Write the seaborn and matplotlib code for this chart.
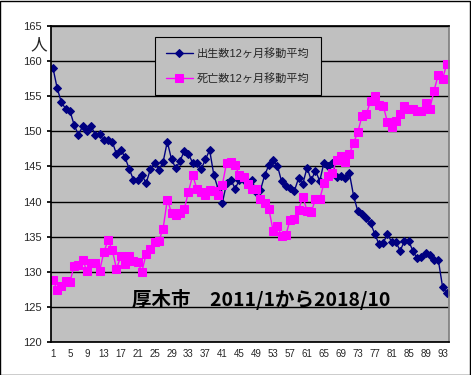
import matplotlib
matplotlib.use("Agg")
import matplotlib.pyplot as plt
import numpy as np
import pandas as pd
import seaborn as sns

months = list(range(1, 95))

births = [159.0, 156.1, 154.1, 153.2, 152.9, 150.9, 149.5, 150.7, 150.1, 150.7,
          149.5, 149.55, 148.7, 148.7, 148.5, 146.75, 147.4, 146.3, 144.65, 143.1,
          143.1, 143.75, 142.6, 144.6, 145.5, 144.5, 145.6, 148.5, 146.0, 144.75,
          145.75, 147.2, 146.75, 145.5, 145.5, 144.6, 146.0, 147.3, 143.75, 141.8,
          139.8, 142.6, 143.1, 141.85, 143.0, 143.0, 142.5, 143.1, 141.3, 141.6,
          143.75, 145.2, 145.9, 145.1, 142.85, 142.25, 141.9, 141.5, 143.3, 142.5,
          144.8, 143.05, 144.4, 142.9, 145.55, 145.1, 145.55, 143.5, 143.65, 143.4,
          144.05, 140.8, 138.6, 138.25, 137.65, 136.9, 135.4, 133.9, 134.1, 135.4,
          134.2, 134.2, 133.0, 134.35, 134.35, 133.0, 131.9, 132.1, 132.65, 132.35,
          131.7, 131.7, 127.9, 126.95]

deaths = [128.85, 127.4, 128.0, 128.75, 128.55, 130.85, 130.95, 131.7, 130.1, 131.3,
          131.3, 130.1, 132.75, 134.5, 133.1, 130.4, 132.2, 131.1, 132.2, 131.5,
          131.4, 130.0, 132.55, 133.3, 134.3, 134.4, 136.1, 140.25, 138.35, 138.05,
          138.35, 138.9, 141.4, 143.75, 141.75, 141.4, 140.9, 141.65, 141.5, 140.9,
          142.35, 145.55, 145.65, 145.2, 143.75, 143.5, 142.5, 141.75, 141.75, 140.35,
          139.85, 138.9, 135.8, 136.5, 135.1, 135.2, 137.4, 137.5, 138.8, 140.7,
          138.7, 138.5, 140.35, 140.35, 142.6, 143.65, 144.05, 145.95, 146.5, 145.65,
          146.8, 148.3, 149.9, 152.2, 152.4, 154.3, 155.05, 153.8, 153.6, 151.3,
          150.6, 151.4, 152.5, 153.6, 153.2, 153.2, 152.9, 152.9, 154.0, 153.2,
          155.8, 158.05, 157.4, 159.6]

labels = ["出生数12ヶ月移動平均", "死亡数12ヶ月移動平均"]
title_text = "厚木市　2011/1から2018/10"

sns.set_theme(style="white")
plt.rcParams["font.family"] = ["Liberation Sans", "Noto Sans CJK JP", "DejaVu Sans"]

df = pd.DataFrame({"month": months, "births": births, "deaths": deaths})

fig = plt.figure(figsize=(4.71, 3.75), dpi=100)
ax = fig.add_axes([0.108, 0.088, 0.845, 0.843])
ax.set_facecolor("#C0C0C0")

sns.lineplot(data=df, x="month", y="births", ax=ax, color="#000080", lw=1,
             marker="D", markersize=4, markeredgecolor="#000080", label=labels[0])
sns.lineplot(data=df, x="month", y="deaths", ax=ax, color="#FF00FF", lw=1,
             marker="s", markersize=5.5, markeredgecolor="#FF00FF", label=labels[1])

ax.set_xlim(0.5, 94.5)
ax.set_ylim(120, 165)
ax.set_yticks(np.arange(120, 166, 5))
ax.yaxis.grid(True, color="black", lw=1)
ax.set_xticks(months)
ax.set_xticklabels([str(m) if (m - 1) % 4 == 0 else "" for m in months], fontsize=7)
ax.tick_params(axis="x", direction="in", length=3, width=0.6, color="black", pad=5)
ax.tick_params(axis="y", labelsize=8, length=3, color="black", left=True)
ax.set_xlabel("")
ax.set_ylabel("")
for side in ["left", "bottom", "top"]:
    ax.spines[side].set_color("black")
ax.spines["right"].set_color("#808080")

leg = ax.legend(loc="upper left", bbox_to_anchor=(0.261, 0.965), borderaxespad=0,
                fancybox=False, frameon=True, edgecolor="black", facecolor="#C0C0C0",
                framealpha=1, fontsize=8, handlelength=2.4, handletextpad=0.4,
                borderpad=1.0, labelspacing=1.3)
leg.get_frame().set_linewidth(0.8)

ax.text(0.203, 0.136, title_text, transform=ax.transAxes, fontsize=14,
        fontweight="bold", color="black", va="center",
        family=["Noto Sans CJK JP", "DejaVu Sans"])
fig.text(0.083, 0.88, "人", fontsize=12, ha="center", va="center")

fig.patches.append(plt.Rectangle((0.001, 0.001), 0.997, 0.997, transform=fig.transFigure,
                                 fill=False, edgecolor="black", lw=1))

fig.savefig("out.png", dpi=100)
